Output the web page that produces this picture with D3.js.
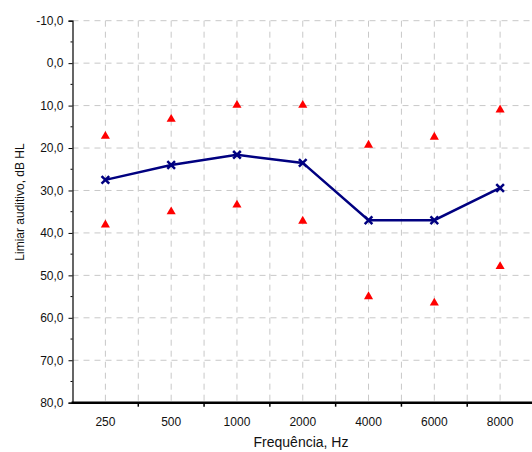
<!DOCTYPE html>
<html>
<head>
<meta charset="utf-8">
<script src="https://cdn.jsdelivr.net/npm/d3@7"></script>
<style>
  body { margin: 0; background: #fff; }
  svg { display: block; font-family: "Liberation Sans", Arial, sans-serif; }
</style>
</head>
<body>
<div id="chart"></div>
<script>
// audiogram data
const frequencies = ["250", "500", "1000", "2000", "4000", "6000", "8000"];
const threshold = [27.5, 24, 21.6, 23.5, 37, 37, 29.4];
const upperLimit = [17.2, 13.2, 9.9, 9.9, 19.3, 17.4, 11];
const lowerLimit = [38.1, 35, 33.4, 37.2, 55, 56.5, 47.9];
const yTicks = [-10, 0, 10, 20, 30, 40, 50, 60, 70, 80];

const width = 532;
const height = 452;
const margin = {left: 72.5, right: -1, top: 20.7, bottom: 49.3};

const svg = d3.select("#chart")
    .append("svg")
    .attr("width", width)
    .attr("height", height);

const xScale = d3.scaleBand()
    .domain(frequencies)
    .range([margin.left, width - margin.right])
    .padding(0);

const yScale = d3.scaleLinear()
    .domain([-10, 80])
    .range([margin.top, height - margin.bottom]);

const fmt = v => d3.format(".1f")(v).replace("\u2212", "-").replace(".", ",");

// grid - horizontal at every 10 dB
svg.append("g")
    .selectAll("line")
    .data(yTicks.slice(0, -1))
    .join("line")
    .attr("x1", margin.left)
    .attr("x2", width)
    .attr("y1", d => yScale(d))
    .attr("y2", d => yScale(d))
    .attr("stroke", "#c8c8c8")
    .attr("stroke-dasharray", "6,5");

// grid - vertical at band edges and centres
const vLines = [];
frequencies.forEach(f => {
    vLines.push(xScale(f) + xScale.bandwidth() / 2);
    if (f !== frequencies[0]) vLines.push(xScale(f));
});
vLines.push(xScale.range()[1]);
svg.append("g")
    .selectAll("line")
    .data(vLines)
    .join("line")
    .attr("x1", d => d)
    .attr("x2", d => d)
    .attr("y1", yScale(-10))
    .attr("y2", yScale(80))
    .attr("stroke", "#c8c8c8")
    .attr("stroke-dasharray", "6,5");

// y axis
const yAxis = svg.append("g")
    .attr("transform", `translate(${margin.left},0)`)
    .call(d3.axisLeft(yScale).tickValues(yTicks).tickFormat(fmt).tickSize(4).tickPadding(5));
yAxis.select(".domain").attr("stroke", "#000").attr("stroke-width", 1.2);
yAxis.selectAll("text").attr("font-size", "12px").attr("fill", "#111")
    .attr("font-family", "Liberation Sans, Arial, sans-serif");

// minor y ticks
svg.append("g")
    .selectAll("line")
    .data(d3.range(-5, 80, 10))
    .join("line")
    .attr("x1", margin.left - 2)
    .attr("x2", margin.left)
    .attr("y1", d => yScale(d))
    .attr("y2", d => yScale(d))
    .attr("stroke", "#000");

// x axis
const xAxisG = svg.append("g")
    .attr("transform", `translate(0,${yScale(80)})`);
xAxisG.append("line")
    .attr("x1", margin.left - 1)
    .attr("x2", width)
    .attr("stroke", "#000")
    .attr("stroke-width", 2.5);
xAxisG.selectAll("line.tick")
    .data(frequencies.slice(1))
    .join("line")
    .attr("class", "tick")
    .attr("x1", d => xScale(d))
    .attr("x2", d => xScale(d))
    .attr("y1", 0)
    .attr("y2", 4)
    .attr("stroke", "#000")
    .attr("stroke-width", 1.5);
xAxisG.selectAll("text")
    .data(frequencies)
    .join("text")
    .attr("x", d => xScale(d) + xScale.bandwidth() / 2)
    .attr("y", 23)
    .attr("text-anchor", "middle")
    .attr("font-size", "12px")
    .attr("fill", "#111")
    .text(d => d);

// axis titles
svg.append("text")
    .attr("x", 301)
    .attr("y", 447)
    .attr("text-anchor", "middle")
    .attr("font-size", "14px")
    .attr("fill", "#111")
    .text("Frequência, Hz");

svg.append("text")
    .attr("transform", "translate(24,202) rotate(-90)")
    .attr("text-anchor", "middle")
    .attr("font-size", "12px")
    .attr("fill", "#111")
    .text("Limiar auditivo, dB HL");

const cx = (d, i) => xScale(frequencies[i]) + xScale.bandwidth() / 2;

// threshold line
const line = d3.line()
    .x((d, i) => cx(d, i))
    .y(d => yScale(d));
svg.append("path")
    .datum(threshold)
    .attr("d", line)
    .attr("fill", "none")
    .attr("stroke", "#000080")
    .attr("stroke-width", 2.5);

// x markers
const cross = d3.symbol().type(d3.symbolX).size(40);
svg.append("g")
    .selectAll("path")
    .data(threshold)
    .join("path")
    .attr("transform", (d, i) => `translate(${cx(d, i)},${yScale(d)})`)
    .attr("d", cross)
    .attr("stroke", "#000080")
    .attr("stroke-width", 2.5)
    .attr("fill", "none");

// red triangles (upper and lower limits)
const tri = d3.symbol().type(d3.symbolTriangle).size(36);
[upperLimit, lowerLimit].forEach(series => {
    svg.append("g")
        .selectAll("path")
        .data(series)
        .join("path")
        .attr("transform", (d, i) => `translate(${cx(d, i)},${yScale(d)})`)
        .attr("d", tri)
        .attr("fill", "#ff0000");
});
</script>
</body>
</html>
